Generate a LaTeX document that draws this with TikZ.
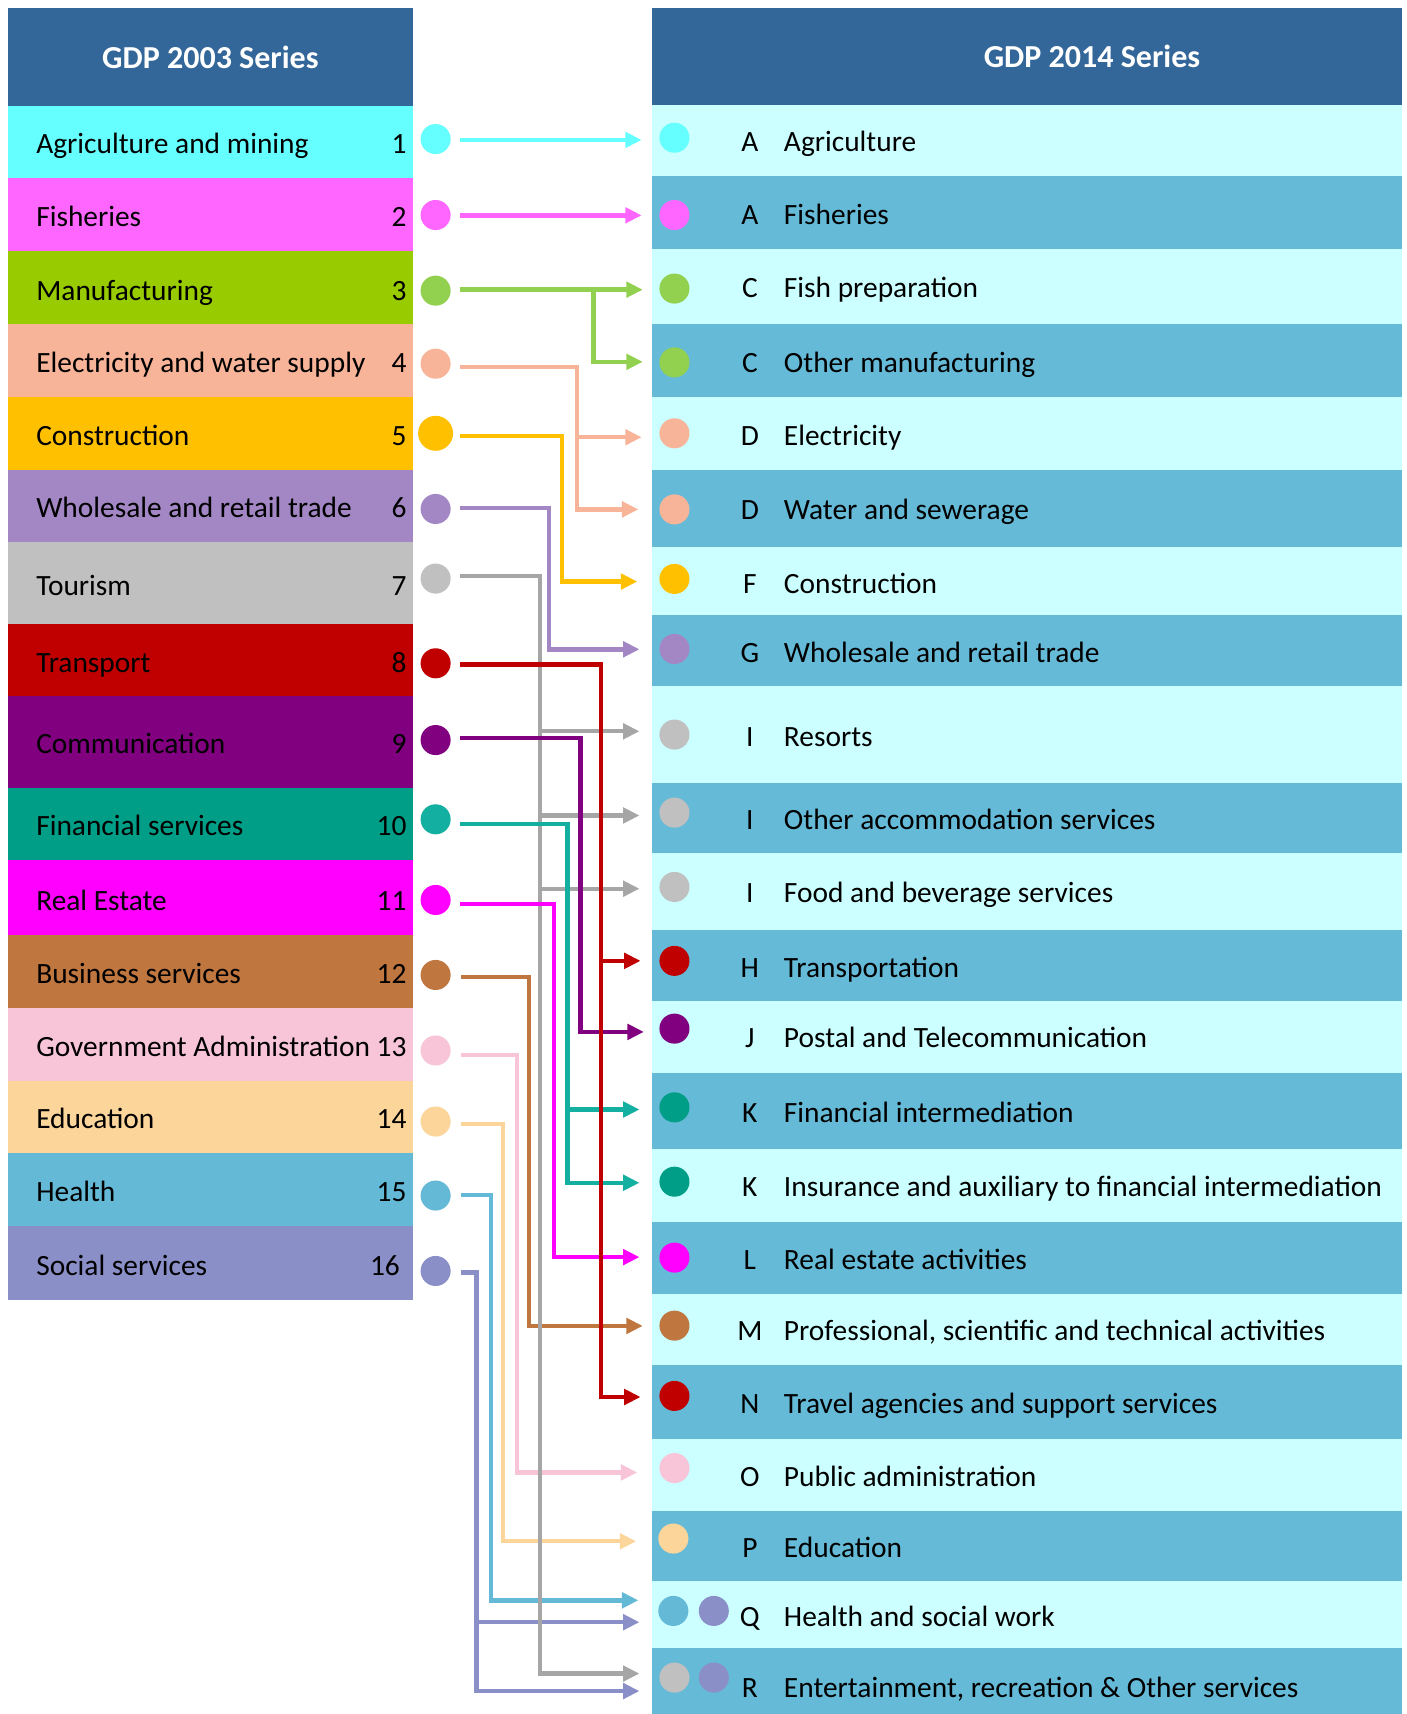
\documentclass[tikz,border=0pt]{standalone}
\usepackage{fontspec}
\setmainfont{Carlito}
\usetikzlibrary{arrows.meta}
\definecolor{hdr}{HTML}{336699}
\definecolor{rlight}{HTML}{CCFFFF}
\definecolor{rdark}{HTML}{65BAD7}
\definecolor{cAgr}{HTML}{66FFFF}
\definecolor{cFis}{HTML}{FF66FF}
\definecolor{cMan}{HTML}{99CC00}
\definecolor{cGrn}{HTML}{92D050}
\definecolor{cEle}{HTML}{F8B499}
\definecolor{cCon}{HTML}{FFC000}
\definecolor{cWho}{HTML}{A287C4}
\definecolor{cTou}{HTML}{C0C0C0}
\definecolor{cGry}{HTML}{A6A6A6}
\definecolor{cTra}{HTML}{C00000}
\definecolor{cCom}{HTML}{800080}
\definecolor{cFin}{HTML}{009E87}
\definecolor{cTeal}{HTML}{13AFA0}
\definecolor{cRea}{HTML}{FF00FF}
\definecolor{cBus}{HTML}{C0763F}
\definecolor{cGov}{HTML}{F8C5D8}
\definecolor{cEdu}{HTML}{FCD59B}
\definecolor{cHea}{HTML}{63B9D6}
\definecolor{cSoc}{HTML}{8B8FC8}
\newcommand\Lrow[8]{%
  \node[box, fill=#4, minimum height={(#3-#2)*1pt}, minimum width=371pt] (#1) at (7,#2) {};
  \node[txt] (#1t) at (33,#7) {#5};
  \node[numtxt] (#1n) at (#8,#7) {#6};
}
\newcommand\Rrow[7]{%
  \node[box, fill=#4, minimum height={(#3-#2)*1pt}, minimum width=687pt] (#1) at (596,#2) {};
  \node[lettxt] (#1l) at (686,#7) {#5};
  \node[txt] (#1t) at (717,#7) {#6};
}
\begin{document}
\begin{tikzpicture}[x=1pt,y=-1pt,
  box/.style={inner sep=0pt, outer sep=0pt, draw=none, anchor=north west},
  txt/.style={inner sep=0pt, anchor=base west, font=\fontsize{26.9}{30}\selectfont},
  numtxt/.style={inner sep=0pt, anchor=base east, font=\fontsize{26.9}{30}\selectfont},
  lettxt/.style={inner sep=0pt, anchor=base, font=\fontsize{26.9}{30}\selectfont},
  hdrtxt/.style={inner sep=0pt, anchor=base, text=white, font=\fontsize{29.3}{32}\selectfont\bfseries},
  dot/.style={circle, inner sep=0pt, outer sep=0pt, minimum size=27.5pt, draw=none},
  conn/.style={line width=4pt, -{Triangle[length=15pt,width=14pt]}}]
\useasboundingbox (0,0) rectangle (1287,1568);
\fill[white] (0,0) rectangle (1287,1568);
% headers
\node[box, fill=hdr, minimum width=371pt, minimum height=90pt] (LH) at (7,7) {};
\node[hdrtxt] (LHt) at (192.5,62.5) {GDP 2003 Series};
\node[box, fill=hdr, minimum width=687pt, minimum height=89pt] (RH) at (596,7) {};
\node[hdrtxt] (RHt) at (999,62) {GDP 2014 Series};
% left rows
\Lrow{L1}{97}{163}{cAgr}{Agriculture and mining}{1}{140.5}{372}
\Lrow{L2}{163}{230}{cFis}{Fisheries}{2}{207.5}{372}
\Lrow{L3}{230}{296}{cMan}{Manufacturing}{3}{274.5}{372}
\Lrow{L4}{296}{363}{cEle}{Electricity and water supply}{4}{340.5}{372}
\Lrow{L5}{363}{430}{cCon}{Construction}{5}{407.5}{372}
\Lrow{L6}{430}{496}{cWho}{Wholesale and retail trade}{6}{473.5}{372}
\Lrow{L7}{496}{571}{cTou}{Tourism}{7}{544.5}{372}
\Lrow{L8}{571}{637}{cTra}{Transport}{8}{615.5}{372}
\Lrow{L9}{637}{721}{cCom}{Communication}{9}{689.5}{372}
\Lrow{L10}{721}{787}{cFin}{Financial services}{10}{764.5}{372}
\Lrow{L11}{787}{855}{cRea}{Real Estate}{11}{832.5}{372}
\Lrow{L12}{855}{922}{cBus}{Business services}{12}{899.5}{372}
\Lrow{L13}{922}{989}{cGov}{Government Administration}{13}{966.5}{372}
\Lrow{L14}{989}{1055}{cEdu}{Education}{14}{1032.5}{372}
\Lrow{L15}{1055}{1122}{cHea}{Health}{15}{1099.5}{372}
\Lrow{L16}{1122}{1189}{cSoc}{Social services}{16}{1166.5}{366}
% right rows
\Rrow{R1}{96}{161}{rlight}{A}{Agriculture}{138.5}
\Rrow{R2}{161}{228}{rdark}{A}{Fisheries}{205.5}
\Rrow{R3}{228}{296}{rlight}{C}{Fish preparation}{272.5}
\Rrow{R4}{296}{363}{rdark}{C}{Other manufacturing}{340.5}
\Rrow{R5}{363}{430}{rlight}{D}{Electricity}{407.5}
\Rrow{R6}{430}{500}{rdark}{D}{Water and sewerage}{475.5}
\Rrow{R7}{500}{563}{rlight}{F}{Construction}{542.5}
\Rrow{R8}{563}{628}{rdark}{G}{Wholesale and retail trade}{606.5}
\Rrow{R9}{628}{716}{rlight}{I}{Resorts}{682.5}
\Rrow{R10}{716}{780}{rdark}{I}{Other accommodation services}{758.5}
\Rrow{R11}{780}{851}{rlight}{I}{Food and beverage services}{825.5}
\Rrow{R12}{851}{916}{rdark}{H}{Transportation}{894.5}
\Rrow{R13}{916}{982}{rlight}{J}{Postal and Telecommunication}{958.5}
\Rrow{R14}{982}{1051}{rdark}{K}{Financial intermediation}{1026.5}
\Rrow{R15}{1051}{1118}{rlight}{K}{Insurance and auxiliary to financial intermediation}{1094.5}
\Rrow{R16}{1118}{1184}{rdark}{L}{Real estate activities}{1161.5}
\Rrow{R17}{1184}{1249}{rlight}{M}{Professional, scientific and technical activities}{1226.5}
\Rrow{R18}{1249}{1316}{rdark}{N}{Travel agencies and support services}{1293.5}
\Rrow{R19}{1316}{1382}{rlight}{O}{Public administration}{1359.5}
\Rrow{R20}{1382}{1446}{rdark}{P}{Education}{1424.5}
\Rrow{R21}{1446}{1508}{rlight}{Q}{Health and social work}{1487.5}
\Rrow{R22}{1508}{1568}{rdark}{R}{Entertainment, recreation \& Other services}{1552.5}
% left dots
\node[dot, fill=cAgr] (lc1) at (398.5,127.2) {};
\node[dot, fill=cFis] (lc2) at (398.5,196.7) {};
\node[dot, fill=cGrn] (lc3) at (398.5,265.9) {};
\node[dot, fill=cEle] (lc4) at (398.5,332.7) {};
\node[dot, fill=cCon, minimum size=32pt] (lc5) at (398.5,396.4) {};
\node[dot, fill=cWho] (lc6) at (398.5,465.6) {};
\node[dot, fill=cTou] (lc7) at (398.5,529.3) {};
\node[dot, fill=cTra] (lc8) at (398.5,606.8) {};
\node[dot, fill=cCom] (lc9) at (398.5,677) {};
\node[dot, fill=cTeal] (lc10) at (398.5,749.5) {};
\node[dot, fill=cRea] (lc11) at (398.5,823.3) {};
\node[dot, fill=cBus] (lc12) at (398.5,891.9) {};
\node[dot, fill=cGov] (lc13) at (398.5,961) {};
\node[dot, fill=cEdu] (lc14) at (398.5,1026) {};
\node[dot, fill=cHea] (lc15) at (398.5,1093.7) {};
\node[dot, fill=cSoc] (lc16) at (398.5,1162.7) {};
% right dots
\node[dot, fill=cAgr] (rc1) at (617,126) {};
\node[dot, fill=cFis] (rc2) at (617,196.7) {};
\node[dot, fill=cGrn] (rc3) at (617,264) {};
\node[dot, fill=cGrn] (rc4) at (617,331.5) {};
\node[dot, fill=cEle] (rc5) at (617,396.4) {};
\node[dot, fill=cEle] (rc6) at (617,466) {};
\node[dot, fill=cCon] (rc7) at (617,529.6) {};
\node[dot, fill=cWho] (rc8) at (617,593.7) {};
\node[dot, fill=cTou] (rc9) at (617,672) {};
\node[dot, fill=cTou] (rc10) at (617,743.4) {};
\node[dot, fill=cTou] (rc11) at (617,811.4) {};
\node[dot, fill=cTra] (rc12) at (617,879) {};
\node[dot, fill=cCom] (rc13) at (617,941) {};
\node[dot, fill=cFin] (rc14) at (617,1013) {};
\node[dot, fill=cFin] (rc15) at (617,1081) {};
\node[dot, fill=cRea] (rc16) at (617,1150.5) {};
\node[dot, fill=cBus] (rc17) at (617,1212.7) {};
\node[dot, fill=cTra] (rc18) at (617,1277) {};
\node[dot, fill=cGov] (rc19) at (617,1343) {};
\node[dot, fill=cEdu] (rc20) at (616,1407.5) {};
\node[dot, fill=cHea] (rc21) at (616,1473.7) {};
\node[dot, fill=cSoc] (rc21b) at (653,1473.7) {};
\node[dot, fill=cTou] (rc22) at (617,1534.7) {};
\node[dot, fill=cSoc] (rc22b) at (653,1534.7) {};
% connector coordinates
\coordinate (s1) at (421,128); \coordinate (t1) at (587,128);
\coordinate (s2) at (421,197); \coordinate (t2) at (587,197);
\coordinate (s3) at (421,265); \coordinate (j3) at (543,265); \coordinate (t3a) at (588,265); \coordinate (t3b) at (588,331);
\coordinate (s4) at (421,336); \coordinate (j4) at (528,336); \coordinate (t4a) at (587,400); \coordinate (t4b) at (584,466);
\coordinate (s5) at (421,399); \coordinate (j5) at (514,399); \coordinate (t5) at (583,532);
\coordinate (s6) at (421,465); \coordinate (j6) at (502,465); \coordinate (t6) at (585,594);
\coordinate (s7) at (421,527); \coordinate (j7) at (494,527); \coordinate (t7a) at (585,669); \coordinate (t7b) at (585,746); \coordinate (t7c) at (585,813); \coordinate (t7d) at (585,1531);
\coordinate (s8) at (421,608); \coordinate (j8) at (550,608); \coordinate (t8a) at (586,879); \coordinate (t8b) at (586,1278);
\coordinate (s9) at (421,675); \coordinate (j9) at (531,675); \coordinate (t9) at (589,944);
\coordinate (s10) at (421,754); \coordinate (j10) at (519,754); \coordinate (t10a) at (585,1015); \coordinate (t10b) at (585,1082);
\coordinate (s11) at (421,827); \coordinate (j11) at (507,827); \coordinate (t11) at (585,1150);
\coordinate (s12) at (422,894); \coordinate (j12) at (484,894); \coordinate (t12) at (588,1213);
\coordinate (s13) at (422,965); \coordinate (j13) at (473,965); \coordinate (t13) at (583,1347);
\coordinate (s14) at (422,1028); \coordinate (j14) at (460,1028); \coordinate (t14) at (582,1410);
\coordinate (s15) at (422,1093); \coordinate (j15) at (449,1093); \coordinate (t15) at (584,1464);
\coordinate (s16) at (422,1164); \coordinate (j16) at (436,1164); \coordinate (t16a) at (585,1484); \coordinate (t16b) at (585,1547);
% connectors
\draw[conn, cSoc] (s16) -- (j16) |- (t16b);
\draw[conn, cSoc] (j16 |- t16a) -- (t16a);
\draw[conn, cHea] (s15) -- (j15) |- (t15);
\draw[conn, cEdu] (s14) -- (j14) |- (t14);
\draw[conn, cGov] (s13) -- (j13) |- (t13);
\draw[conn, cBus] (s12) -- (j12) |- (t12);
\draw[conn, cGry] (s7) -- (j7) |- (t7d);
\draw[conn, cGry] (j7 |- t7a) -- (t7a);
\draw[conn, cGry] (j7 |- t7b) -- (t7b);
\draw[conn, cGry] (j7 |- t7c) -- (t7c);
\draw[conn, cRea] (s11) -- (j11) |- (t11);
\draw[conn, cTeal] (s10) -- (j10) |- (t10b);
\draw[conn, cTeal] (j10 |- t10a) -- (t10a);
\draw[conn, cCom] (s9) -- (j9) |- (t9);
\draw[conn, cWho] (s6) -- (j6) |- (t6);
\draw[conn, cCon] (s5) -- (j5) |- (t5);
\draw[conn, cEle] (s4) -- (j4) |- (t4b);
\draw[conn, cEle] (j4 |- t4a) -- (t4a);
\draw[conn, cGrn] (s3) -- (t3a);
\draw[conn, cGrn] (j3) |- (t3b);
\draw[conn, cFis] (s2) -- (t2);
\draw[conn, cAgr] (s1) -- (t1);
\draw[conn, cTra] (s8) -- (j8) |- (t8b);
\draw[conn, cTra] (j8 |- t8a) -- (t8a);
\end{tikzpicture}
\end{document}
